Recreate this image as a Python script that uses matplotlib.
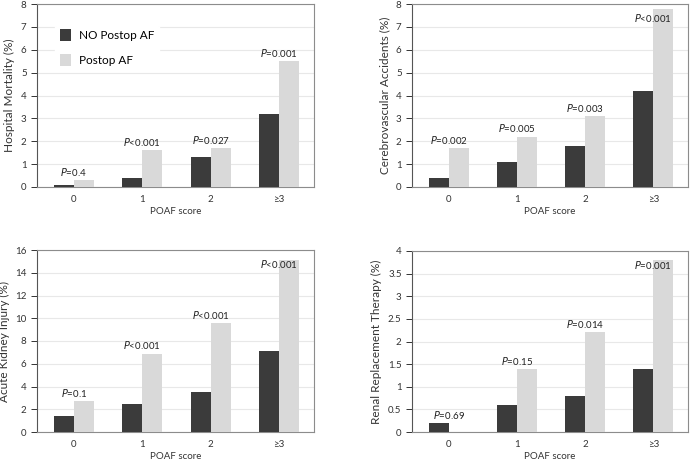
import numpy as np
import matplotlib.pyplot as plt

plt.rcParams['font.family'] = ['Lato', 'DejaVu Sans']

# 数据
categories = ['0', '1', '2', '≥3']
series_names = ['NO Postop AF', 'Postop AF']

mortality_no = [0.1, 0.4, 1.3, 3.2]
mortality_af = [0.3, 1.6, 1.7, 5.5]
mortality_p = ['=0.4', '<0.001', '=0.027', '=0.001']

cva_no = [0.4, 1.1, 1.8, 4.2]
cva_af = [1.7, 2.2, 3.1, 7.8]
cva_p = ['=0.002', '=0.005', '=0.003', '<0.001']

aki_no = [1.4, 2.5, 3.5, 7.1]
aki_af = [2.7, 6.9, 9.6, 15.1]
aki_p = ['=0.1', '<0.001', '<0.001', '<0.001']

rrt_no = [0.2, 0.6, 0.8, 1.4]
rrt_af = [0.0, 1.4, 2.2, 3.8]
rrt_p = ['=0.69', '=0.15', '=0.014', '=0.001']

dark = '#3b3b3b'
light = '#d9d9d9'


def draw_panel(ax, no_vals, af_vals, pvals, ylabel, ymax, ystep, legend=False):
    x = np.arange(len(categories))
    w = 0.29
    ax.bar(x - w / 2, no_vals, w, color=dark, label=series_names[0], zorder=3)
    ax.bar(x + w / 2, af_vals, w, color=light, label=series_names[1], zorder=3)

    ax.set_xlim(-0.54, 3.51)
    ax.set_ylim(0, ymax)
    ticks = np.arange(0, ymax + ystep / 2, ystep)
    ax.set_yticks(ticks)
    ax.set_yticklabels(['%g' % t for t in ticks])
    ax.set_xticks(x)
    ax.set_xticklabels(categories)
    ax.tick_params(axis='x', length=0, labelsize=7, pad=6, colors='#333333')
    ax.tick_params(axis='y', length=4, width=0.7, labelsize=7, colors='#333333',
                   direction='out')
    ax.grid(axis='y', color='#e8e8e8', linewidth=0.8, zorder=0)
    for s in ax.spines.values():
        s.set_color('#8c8c8c')
        s.set_linewidth(0.8)
    ax.spines['left'].set_color('#555555')
    ax.set_ylabel(ylabel, fontsize=8.5, color='#333333', labelpad=4)
    ax.set_xlabel('POAF score', fontsize=7, color='#333333', labelpad=2)

    for i in range(len(categories)):
        top = max(no_vals[i], af_vals[i])
        y = min(top + 0.045 * ymax, 0.925 * ymax)
        ax.text(x[i], y, r'$\it{P}$' + pvals[i], ha='center', va='center',
                fontsize=7, color='#222222', zorder=4)

    if legend:
        leg = ax.legend(loc='upper left', bbox_to_anchor=(0.045, 0.92), frameon=True,
                        fontsize=8.5, handlelength=0.9, handleheight=1.2,
                        labelspacing=1.1, borderpad=0.4, handletextpad=0.7)
        leg.get_frame().set_edgecolor('white')
        leg.get_frame().set_facecolor('white')
        leg.get_frame().set_alpha(1)
        leg.set_zorder(5)


fig = plt.figure(figsize=(6.93, 4.63), dpi=100)
ax1 = fig.add_axes([37 / 693, 1 - 187 / 463, 277 / 693, 183 / 463])
ax2 = fig.add_axes([412 / 693, 1 - 187 / 463, 276 / 693, 183 / 463])
ax3 = fig.add_axes([37 / 693, 1 - 432 / 463, 277 / 693, 182 / 463])
ax4 = fig.add_axes([412 / 693, 1 - 432 / 463, 276 / 693, 181 / 463])

draw_panel(ax1, mortality_no, mortality_af, mortality_p, 'Hospital Mortality (%)', 8, 1, legend=True)
draw_panel(ax2, cva_no, cva_af, cva_p, 'Cerebrovascular Accidents (%)', 8, 1)
draw_panel(ax3, aki_no, aki_af, aki_p, 'Acute Kidney Injury (%)', 16, 2)
draw_panel(ax4, rrt_no, rrt_af, rrt_p, 'Renal Replacement Therapy (%)', 4, 0.5)

fig.savefig('out.png', dpi=100)
